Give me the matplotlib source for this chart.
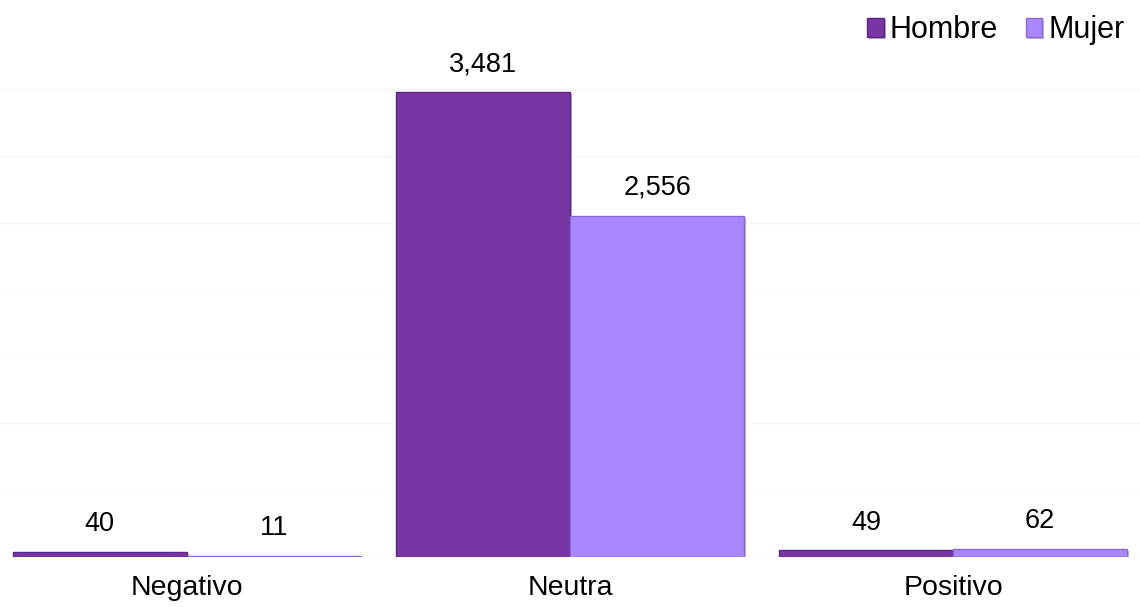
import numpy as np
import matplotlib
matplotlib.use("Agg")
import matplotlib.pyplot as plt
import matplotlib.patheffects as pe

plt.rcParams['font.family'] = ['Liberation Sans', 'DejaVu Sans']

# Data
categories = ['Negativo', 'Neutra', 'Positivo']
hombre = [40, 3481, 49]
mujer = [11, 2556, 62]
series_names = ['Hombre', 'Mujer']
colors = ['#7836A4', '#A987FF']
edges = ['#5E2585', '#8A6AD8']

fig = plt.figure(figsize=(11.4, 6.07), dpi=100)
ax = fig.add_axes([0.0, 50 / 607, 1.0, 497 / 607])

x = np.arange(len(categories))
w = 0.455
shadow = [pe.SimplePatchShadow(offset=(1.5, -1.5), shadow_rgbFace='#909090', alpha=0.6), pe.Normal()]

b1 = ax.bar(x - w / 2, hombre, w, color=colors[0], edgecolor=edges[0], linewidth=1,
            label=series_names[0], path_effects=shadow, zorder=3)
b2 = ax.bar(x + w / 2, mujer, w, color=colors[1], edgecolor=edges[1], linewidth=1,
            label=series_names[1], path_effects=shadow, zorder=3)

for bars, vals in [(b1, hombre), (b2, mujer)]:
    for rect, v in zip(bars, vals):
        ax.annotate(f"{v:,}", (rect.get_x() + rect.get_width() / 2, rect.get_height()),
                    xytext=(0, 20), textcoords='offset points', ha='center', va='center',
                    fontsize=19.5, color='black')

ax.set_xlim(-0.488, 2.488)
ax.set_ylim(0, 3720)
ax.set_yticks(np.arange(0, 3501, 500))
ax.yaxis.grid(True, color='#f7f7f7', linewidth=1, zorder=0)
ax.set_axisbelow(True)
ax.tick_params(axis='y', left=False, labelleft=False)
ax.set_xticks(x)
ax.set_xticklabels(categories, fontsize=20.5)
ax.tick_params(axis='x', length=0, pad=13)
for s in ax.spines.values():
    s.set_visible(False)

fig.legend(loc='upper right', bbox_to_anchor=(1.0, 1.0), ncol=2, frameon=False,
           fontsize=22, handlelength=0.55, handleheight=0.55, handletextpad=0.2,
           columnspacing=0.9, borderaxespad=0.1)

fig.savefig('out.png', dpi=100, facecolor='white')
